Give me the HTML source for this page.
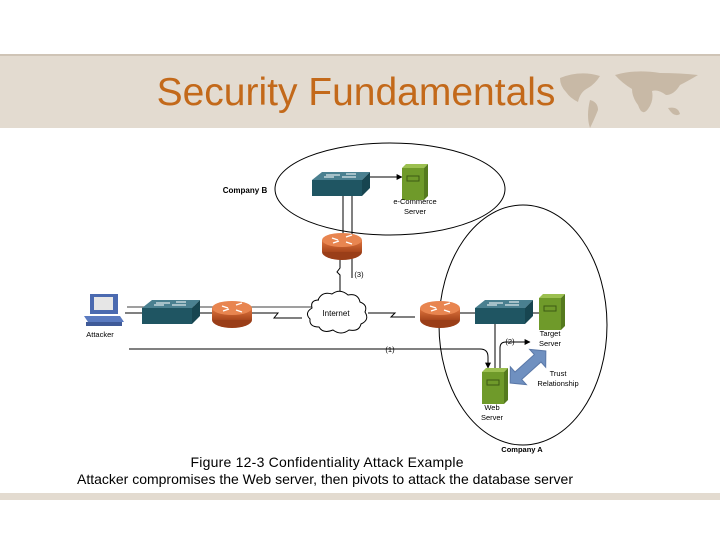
<!DOCTYPE html>
<html><head><meta charset="utf-8"><style>
html,body{margin:0;padding:0;background:#fff;width:720px;height:540px;overflow:hidden;font-family:"Liberation Sans",sans-serif}
</style></head><body>
<svg width="720" height="540" viewBox="0 0 720 540" xmlns="http://www.w3.org/2000/svg" font-family="Liberation Sans, sans-serif">
<defs>
<linearGradient id="rt" x1="0" y1="0" x2="0" y2="1"><stop offset="0" stop-color="#e0753f"/><stop offset="1" stop-color="#a8461c"/></linearGradient>
<marker id="ah" viewBox="0 0 10 10" refX="9" refY="5" markerWidth="6" markerHeight="6" orient="auto"><path d="M0,0L10,5L0,10z" fill="#000"/></marker>
<g id="sw"><polygon points="0,8 10,0 58,0 50,8" fill="#4a8090"/><rect x="0" y="8" width="50" height="16" fill="#1f5562"/><polygon points="50,8 58,0 58,16 50,24" fill="#174550"/><path d="M14,3h14M30,5h14M12,5h10M34,2h10" stroke="#fff" stroke-width="1"/></g>
<g id="rt1"><ellipse cx="0" cy="6" rx="20" ry="8" fill="#9a3e18"/><rect x="-20" y="-6" width="40" height="12" fill="url(#rt)"/><ellipse cx="0" cy="-6" rx="20" ry="7" fill="#e88550"/><path d="M-10,-8l6,2M4,-9l6,-2M-9,-3l6,-2M4,-4l6,2" stroke="#fff" stroke-width="1.3"/></g>
<g id="srv"><rect x="0" y="4" width="22" height="32" fill="#6f9a2a"/><polygon points="0,4 4,0 26,0 22,4" fill="#9cc050"/><polygon points="22,4 26,0 26,32 22,36" fill="#557a1e"/><rect x="5" y="12" width="12" height="5" fill="none" stroke="#3d5a14"/></g>
</defs>
<rect x="0" y="55" width="720" height="73" fill="#e3dbd0"/>
<rect x="0" y="54" width="720" height="2" fill="#cfc4b6"/>
<text x="356" y="105" font-size="39" fill="#c3691a" text-anchor="middle">Security Fundamentals</text>
<g fill="#bfae98" opacity="0.75"><path d="M560,78 q20,-8 40,-2 q-5,8 -12,12 q-8,4 -10,14 q-8,-4 -12,-10 q-6,-6 -6,-14z"/><path d="M590,100 q8,2 8,10 q-4,10 -8,18 q-4,-12 0,-28z"/><path d="M615,75 q20,-6 45,-2 q20,0 38,2 q-10,6 -18,10 q-6,10 -14,10 q-8,-6 -14,-4 q2,10 -4,18 q-6,8 -10,-4 q-6,-8 -6,-16 q-10,-6 -17,-14z"/><path d="M668,108 q10,-2 12,6 q-6,4 -12,-6z"/></g>
<rect x="0" y="493" width="720" height="7" fill="#e3dbd0"/>
<ellipse cx="390" cy="189" rx="115" ry="46" fill="none" stroke="#000" stroke-width="1"/>
<ellipse cx="523" cy="325" rx="84" ry="120" fill="none" stroke="#000" stroke-width="1"/>
<g stroke="#000" stroke-width="1" fill="none">
<path d="M370,177H402" marker-end="url(#ah)"/>
<path d="M343,195V240"/><path d="M352,185V278"/>
<path d="M340,258V268l-3,4 3,3V300"/>
<path d="M125,313H142M192,313H212M252,313H278l-4,5h28M368,313H395l-4,4h24M460,313H475M530,313H540"/>
<path d="M129,349H480q8,0 8,8V368" marker-end="url(#ah)"/>
<path d="M495,323V368"/>
<path d="M500,370V348q0,-6 6,-6H530" marker-end="url(#ah)"/>
</g>
<path d="M127,307H345q7,0 7,-7" stroke="#666" stroke-width="1.2" fill="none"/>
<use href="#sw" x="312" y="172"/>
<use href="#srv" x="402" y="164"/>
<use href="#rt1" x="342" y="246"/>
<use href="#sw" x="142" y="300"/>
<use href="#rt1" x="232" y="314"/>
<use href="#rt1" x="440" y="314"/>
<use href="#sw" x="475" y="300"/>
<use href="#srv" x="539" y="294"/>
<use href="#srv" x="482" y="368"/>
<path d="M318,300q4,-9 14,-6q8,-6 16,1q10,-2 12,7q8,3 5,10q5,8 -4,12q-2,8 -12,6q-8,6 -16,0q-10,4 -14,-3q-10,0 -9,-8q-6,-6 2,-11q-2,-8 7,-8z" fill="#fff" stroke="#000"/>
<text x="336" y="316" font-size="8" text-anchor="middle">Internet</text>
<g>
<rect x="90" y="294" width="28" height="20" fill="#4b6ab0"/><rect x="94" y="297" width="19" height="13" fill="#e6e6e6"/>
<polygon points="84,316 120,316 124,322 88,322" fill="#5a7ac0"/><rect x="86" y="322" width="36" height="4" fill="#3f5a98"/>
</g>
<g transform="translate(528,367) rotate(-42)">
<polygon points="-24,0 -13,-12 -13,-5 13,-5 13,-12 24,0 13,12 13,5 -13,5 -13,12" fill="#6f90c0" stroke="#5a78a8"/>
</g>
<g font-size="7.5" fill="#000" text-anchor="middle">
<text x="245" y="193" font-weight="bold" font-size="8">Company B</text>
<text x="415" y="204">e-Commerce</text><text x="415" y="214">Server</text>
<text x="359" y="277">(3)</text>
<text x="100" y="337">Attacker</text>
<text x="390" y="352">(1)</text>
<text x="510" y="344">(2)</text>
<text x="550" y="336">Target</text><text x="550" y="346">Server</text>
<text x="558" y="376">Trust</text><text x="558" y="386">Relationship</text>
<text x="492" y="410">Web</text><text x="492" y="420">Server</text>
<text x="522" y="452" font-weight="bold">Company A</text>
</g>
<text x="327" y="467" font-size="14" text-anchor="middle" textLength="273">Figure 12-3   Confidentiality Attack Example</text>
<text x="325" y="484" font-size="14" text-anchor="middle" textLength="496">Attacker compromises the Web server, then pivots to attack the database server</text>
</svg>
</body></html>
